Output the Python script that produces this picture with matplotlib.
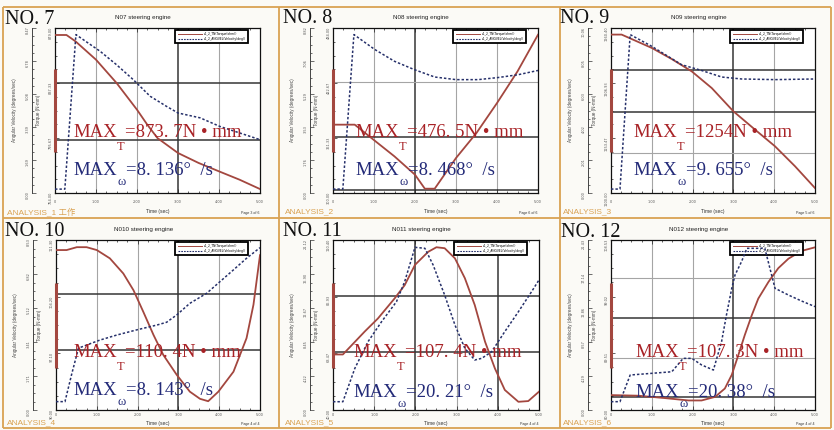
import matplotlib
matplotlib.use("Agg")
import matplotlib.pyplot as plt
from matplotlib.lines import Line2D
from matplotlib.ticker import MultipleLocator, AutoMinorLocator

W, H = 834, 430

# ---------------- data ----------------
panel_names = ["NO. 7", "NO. 8", "NO. 9", "NO. 10", "NO. 11", "NO. 12"]
titles = ["N07 steering engine", "N08 steering engine", "N09 steering engine",
          "N010 steering engine", "N011 steering engine", "N012 steering engine"]
analysis_labels = ["ANALYSIS_1 工作", "ANALYSIS_2", "ANALYSIS_3",
                   "ANALYSIS_4", "ANALYSIS_5", "ANALYSIS_6"]
page_labels = ["Page 3 of 6", "Page 6 of 6", "Page 5 of 6",
               "Page 4 of 4", "Page 4 of 4", "Page 4 of 4"]
max_torque_text = ["873. 7", "476. 5", "1254", "110. 4", "107. 4", "107. 3"]
max_omega_text = ["8. 136", "8. 468", "9. 655", "8. 143", "20. 21", "20. 38"]
time_ticks = [0, 1, 2, 3, 4, 5]
time_tick_labels = ["0", "1.00", "2.00", "3.00", "4.00", "5.00"]
legend_labels = ["z1_2_TN(Torque(ohm))", "z1_2_ANGVEL(Velocity(deg))"]

# torque (N*mm) and angular velocity (deg/s) vs time (s)
torque_time_7 = [0, 0.28, 0.5, 1.0, 1.5, 2.0, 2.25, 2.5, 3.0, 3.5, 4.0, 4.5, 5.0]
torque_7 = [873.7, 873.7, 868.9, 855.0, 837.4, 817.1, 805.8, 795.6, 784.3, 776.8, 770.4, 764.1, 757.0]
omega_time_7 = [0, 0.24, 0.51, 1.10, 1.50, 1.91, 2.32, 2.72, 3.0, 3.54, 4.02, 4.51, 5.0]
omega_7 = [0.20, 0.20, 8.136, 7.28, 6.59, 5.82, 4.97, 4.45, 4.11, 3.86, 3.42, 3.08, 2.74]

torque_time_8 = [0, 0.53, 1.0, 1.5, 2.0, 2.24, 2.48, 3.0, 3.5, 4.0, 4.5, 5.0]
torque_8 = [376.2, 376.2, 359.0, 340.8, 320.4, 304.8, 304.8, 339.0, 367.0, 400.3, 435.6, 476.5]
omega_time_8 = [0, 0.24, 0.51, 1.02, 1.50, 1.99, 2.48, 3.0, 3.54, 4.02, 4.51, 5.0]
omega_8 = [0.21, 0.21, 8.468, 7.67, 7.04, 6.59, 6.20, 6.06, 6.06, 6.17, 6.32, 6.55]

torque_time_9 = [0, 0.26, 1.0, 1.49, 1.98, 2.47, 3.0, 3.53, 4.02, 4.51, 5.0]
torque_9 = [1254, 1254, 1241.0, 1230.2, 1218.2, 1202.0, 1179.4, 1161.6, 1145.4, 1126.0, 1104.8]
omega_time_9 = [0, 0.22, 0.47, 1.0, 1.73, 2.22, 2.71, 3.2, 4.02, 5.0]
omega_9 = [0.24, 0.24, 9.655, 8.94, 7.82, 7.47, 7.07, 6.95, 6.91, 6.95]

torque_time_10 = [0, 0.26, 0.51, 0.75, 1.0, 1.32, 1.65, 1.90, 2.14, 2.39, 2.63, 2.96,
                  3.28, 3.53, 3.73, 3.98, 4.35, 4.67, 4.84, 5.0]
torque_10 = [110.04, 110.04, 110.4, 110.4, 110.04, 109.0, 107.1, 105.0, 102.3, 99.4, 96.9, 94.4,
             92.3, 91.4, 91.1, 92.3, 94.8, 99.0, 103.2, 109.4]
omega_time_10 = [0, 0.22, 0.38, 0.55, 0.75, 1.08, 1.49, 1.98, 2.47, 2.71, 2.96, 3.28,
                 3.69, 4.02, 4.35, 4.67, 5.0]
omega_10 = [0.42, 0.42, 1.76, 3.10, 3.26, 3.51, 3.76, 4.02, 4.26, 4.40, 4.77, 5.35,
            5.85, 6.44, 7.03, 7.61, 8.143]

torque_time_11 = [0, 0.24, 0.77, 1.09, 1.50, 1.74, 1.99, 2.31, 2.51, 2.71, 2.96, 3.20,
                  3.44, 3.69, 3.93, 4.17, 4.50, 4.74, 5.0]
torque_11 = [63.0, 63.0, 72.5, 77.9, 86.3, 91.7, 100.1, 105.5, 107.4, 107.0, 102.8, 94.6,
             83.5, 68.3, 57.2, 48.3, 43.4, 43.7, 47.6]
omega_time_11 = [0, 0.24, 0.53, 0.85, 1.18, 1.54, 1.74, 1.99, 2.23, 2.43, 2.71, 2.96,
                 3.20, 3.44, 3.61, 3.85, 4.17, 4.50, 4.82, 5.0]
omega_11 = [1.03, 1.03, 5.17, 8.49, 10.98, 13.45, 15.95, 20.21, 20.09, 18.02, 14.28, 10.56,
            7.67, 6.21, 6.42, 7.24, 9.74, 12.21, 14.70, 16.16]

torque_time_12 = [0, 0.67, 1.32, 1.90, 2.22, 2.55, 2.79, 2.96, 3.12, 3.28, 3.45, 3.61,
                  3.86, 4.10, 4.35, 4.67, 5.0]
torque_12 = [82.5, 82.4, 82.0, 81.6, 81.6, 82.2, 83.6, 85.9, 89.2, 92.6, 95.9, 98.7,
             101.5, 103.8, 105.4, 106.7, 107.3]
omega_time_12 = [0, 0.22, 0.47, 1.49, 1.77, 1.98, 2.22, 2.51, 2.71, 2.83, 2.96, 3.04,
                 3.20, 3.33, 3.77, 4.02, 4.35, 4.67, 5.0]
omega_12 = [1.05, 1.05, 4.41, 4.82, 6.51, 6.51, 5.68, 5.04, 8.61, 11.98, 15.34, 17.02,
            18.71, 20.38, 20.38, 15.34, 14.49, 13.74, 13.03]

torque_lims = [(754, 879), (300, 484), (1100, 1260.4), (90, 111.3), (40, 110.4), (80, 108.53)]
omega_lims = [(0, 8.475), (0, 8.82), (0, 10.057), (0, 8.527), (0, 21.12), (0, 21.43)]

torque_times = [torque_time_7, torque_time_8, torque_time_9, torque_time_10, torque_time_11, torque_time_12]
torque_vals = [torque_7, torque_8, torque_9, torque_10, torque_11, torque_12]
omega_times = [omega_time_7, omega_time_8, omega_time_9, omega_time_10, omega_time_11, omega_time_12]
omega_vals = [omega_7, omega_8, omega_9, omega_10, omega_11, omega_12]

# ---------------- layout (pixels) ----------------
plot_boxes = [(55, 28, 260, 193), (333, 28, 538, 193), (611, 28, 815, 193),
              (56, 240, 260, 410), (333, 240, 539, 410), (611, 240, 815, 410)]
name_pos = [(5, 24), (283, 23), (560, 23), (5, 236), (283, 236), (561, 237)]
max_pos = [(73, 137, 175), (355, 137, 175), (633, 137, 175),
           (73, 357, 395), (353, 357, 397), (635, 357, 397)]
analysis_x = [7, 285, 563, 7, 285, 563]
row_title_y = [18, 230]
row_xlabel_y = [211, 423]
row_analysis_y = [212, 423]
row_page_y = [213, 424]
row_xtick_pad = [5.0, 2.2]
vgrid_dark = [[3], [2], [3], [3], [2, 4], [3]]
hgrid = [[(0.667, True), (0.321, True)],
         [(0.67, False), (0.34, True), (0.02, True)],
         [(0.745, True), (0.491, True), (0.242, False)],
         [(0.682, True), (0.353, True)],
         [(0.671, True), (0.341, True)],
         [(0.776, False), (0.541, True), (0.306, False), (0.076, True)]]

RED_LINE = "#a3473f"
NAVY = "#26306a"
RED_TXT = "#a82226"
BLUE_TXT = "#232a78"
ORANGE = "#d9a253"
SERIF = "Liberation Serif"
MAX_FS = 13.5

plt.rcParams["font.family"] = ["DejaVu Sans", "Noto Sans CJK SC"]

fig = plt.figure(figsize=(W / 100, H / 100), dpi=100)
fig.patch.set_facecolor("#fbfaf6")

for i in range(6):
    row = i // 3
    l, t, r, b = plot_boxes[i]
    ax = fig.add_axes([l / W, 1 - b / H, (r - l) / W, (b - t) / H])
    ax.set_facecolor("white")
    tlo, thi = torque_lims[i]
    vlo, vhi = omega_lims[i]
    ax.set_xlim(0, 5)
    ax.set_ylim(tlo, thi)

    for xv in [1, 2, 3, 4]:
        dark = xv in vgrid_dark[i]
        ax.axvline(xv, color="#353535" if dark else "#a5a5a5", lw=1.1 if dark else 0.8, zorder=1)
    for f, dark in hgrid[i]:
        ax.axhline(tlo + f * (thi - tlo), color="#353535" if dark else "#a5a5a5",
                   lw=1.1 if dark else 0.8, zorder=1)

    ax.plot(torque_times[i], torque_vals[i], color=RED_LINE, lw=1.3, zorder=3)

    ax.set_xticks(time_ticks)
    ax.set_xticklabels(time_tick_labels)
    ax.xaxis.set_minor_locator(MultipleLocator(0.25))
    ax.set_yticks([tlo + k * (thi - tlo) / 3 for k in range(4)])
    ax.set_yticklabels(["%.2f" % (tlo + k * (thi - tlo) / 3) for k in range(4)])
    ax.yaxis.set_minor_locator(AutoMinorLocator(4))
    ax.tick_params(which="both", direction="in", top=True, right=True, width=0.5,
                   color="#222", labelsize=2.5, labelcolor="#555")
    ax.tick_params(which="major", length=2.6)
    ax.tick_params(which="minor", length=1.4)
    ax.tick_params(axis="x", pad=row_xtick_pad[row])
    ax.tick_params(axis="y", labelrotation=90, pad=1.5)
    for sp in ax.spines.values():
        sp.set_linewidth(0.9)
        sp.set_color("#111")
    ax.plot([0, 0], [0.25, 0.75], transform=ax.transAxes, color=RED_LINE, lw=2.2,
            clip_on=False, zorder=6, solid_capstyle="butt")

    h1 = Line2D([], [], color=RED_LINE, lw=0.7)
    h2 = Line2D([], [], color=NAVY, lw=0.8, ls=(0, (1.5, 1.0)))
    leg = ax.legend([h1, h2], legend_labels, loc="upper right", bbox_to_anchor=(0.942, 0.99),
                    fontsize=2.2, frameon=True, fancybox=False, edgecolor="black",
                    handlelength=8, borderpad=0.7, labelspacing=0.3, handletextpad=0.6,
                    borderaxespad=0, framealpha=1)
    leg.get_frame().set_linewidth(1.3)
    leg.set_zorder(5)

    ax2 = ax.twinx()
    ax2.set_ylim(vlo, vhi)
    ax2.plot(omega_times[i], omega_vals[i], color=NAVY, lw=1.1, ls=(0, (1.6, 1.3)), zorder=3)
    for k in ["right", "top", "bottom"]:
        ax2.spines[k].set_visible(False)
    ax2.spines["left"].set_visible(True)
    ax2.spines["left"].set_position(("outward", 16.5))
    ax2.spines["left"].set_color("#444")
    ax2.spines["left"].set_linewidth(0.7)
    ax2.yaxis.tick_left()
    ax2.set_yticks([vlo + k * (vhi - vlo) / 5 for k in range(6)])
    ax2.set_yticklabels(["%.2f" % (vlo + k * (vhi - vlo) / 5) for k in range(6)])
    ax2.yaxis.set_minor_locator(AutoMinorLocator(4))
    ax2.tick_params(which="both", direction="in", width=0.5, color="#333",
                    labelsize=2.5, labelcolor="#555", labelrotation=90, pad=1.5)
    ax2.tick_params(which="major", length=2.6)
    ax2.tick_params(which="minor", length=1.4)

# ---------------- overlay (pixel coordinates) ----------------
ov = fig.add_axes([0, 0, 1, 1], zorder=20)
ov.set_xlim(0, W)
ov.set_ylim(H, 0)
ov.axis("off")

for y in [7, 218, 428]:
    ov.plot([3, 831], [y, y], color=ORANGE, lw=1.3, solid_capstyle="butt")
for x in [3.5, 279.5, 560, 831]:
    ov.plot([x, x], [7, 428], color=ORANGE, lw=1.3, solid_capstyle="butt")

for i in range(6):
    row = i // 3
    l, t, r, b = plot_boxes[i]
    cx = l + 0.43 * (r - l)
    cy = (t + b) / 2
    ov.text(cx, row_title_y[row], titles[i], fontsize=4.5, family="Liberation Sans",
            ha="center", va="center", color="#222")
    ov.text(l - 40, cy, "Angular Velocity (degrees/sec)", fontsize=3.3, rotation=90,
            ha="center", va="center", color="#444", family="Liberation Sans")
    ov.text(l - 16, cy, "Torque (N-mm)", fontsize=3.3, rotation=90,
            ha="center", va="center", color="#444", family="Liberation Sans")
    ov.text((l + r) / 2, row_xlabel_y[row], "Time (sec)", fontsize=3.6, ha="center",
            va="center", color="#333", family="Liberation Sans")
    ov.text(r - 10, row_page_y[row], page_labels[i], fontsize=2.6, ha="center",
            va="center", color="#333", family="Liberation Sans")
    ov.text(analysis_x[i], row_analysis_y[row], analysis_labels[i], fontsize=6,
            ha="left", va="center", color=ORANGE,
            family=["Liberation Sans", "Noto Sans CJK SC"])

    nx, ny = name_pos[i]
    ov.text(nx, ny, panel_names[i], fontsize=14.5, family=SERIF, color="#111",
            ha="left", va="baseline")

    mx, my1, my2 = max_pos[i]
    t1 = ov.text(mx, my1, "MAX", fontsize=MAX_FS, family=SERIF, color=RED_TXT,
                 ha="left", va="baseline")
    s1 = ov.annotate("T", xy=(1, 0), xycoords=t1, xytext=(0.3, -9.0),
                     textcoords="offset points", fontsize=9, family=SERIF,
                     color=RED_TXT, ha="left", va="bottom")
    ov.annotate("=" + max_torque_text[i] + "N • mm", xy=(1, 0), xycoords=(s1, t1),
                xytext=(0.3, 0), textcoords="offset points", fontsize=MAX_FS,
                family=SERIF, color=RED_TXT, ha="left", va="bottom")

    t2 = ov.text(mx, my2, "MAX", fontsize=MAX_FS, family=SERIF, color=BLUE_TXT,
                 ha="left", va="baseline")
    s2 = ov.annotate("ω", xy=(1, 0), xycoords=t2, xytext=(0.3, -6.3),
                     textcoords="offset points", fontsize=9, family=SERIF,
                     color=BLUE_TXT, ha="left", va="bottom")
    ov.annotate("=" + max_omega_text[i] + "°  /s", xy=(1, 0), xycoords=(s2, t2),
                xytext=(0.3, 0), textcoords="offset points", fontsize=MAX_FS,
                family=SERIF, color=BLUE_TXT, ha="left", va="bottom")

fig.savefig("out.png", dpi=100, facecolor=fig.get_facecolor())
